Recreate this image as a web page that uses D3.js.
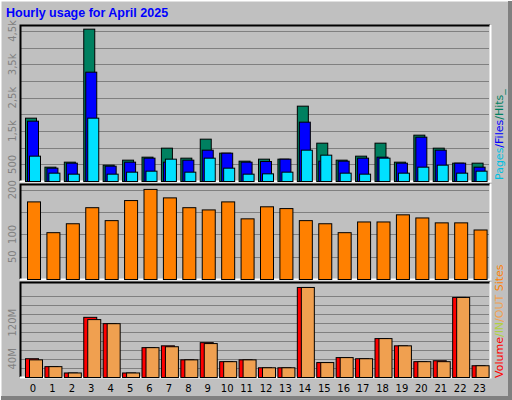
<!DOCTYPE html><html><head><meta charset="utf-8">
<script src="https://cdn.jsdelivr.net/npm/d3@7"></script>
<style>body{margin:0;background:#fff}</style></head><body><svg id="c" width="512" height="400"></svg>
<script>
const hours=d3.range(24).map(String);
const hits=[1900,430,580,4570,490,640,730,1000,700,1270,850,610,670,670,2260,1150,640,760,1150,580,1390,1000,550,550];
const files=[1810,400,550,3280,460,580,700,580,640,940,850,580,600,670,1780,610,610,700,730,550,1330,940,550,430];
const pages=[760,250,220,1900,220,280,310,670,280,700,400,220,230,280,940,790,250,220,700,250,430,490,250,310];
const sites=[174,105,125,161,132,177,202,183,161,156,174,136,163,159,132,125,105,129,129,145,138,127,127,111];
const volIn=[41.5,24,10,133,119,10,66,70,39,77,35,39,21.5,21.5,199,33,44,41.5,86,70,35,37,177,26];
const volOut=[39,24,10,128,119,10,66,68,39,75,35,39,21.5,21.5,199,33,44,41.5,86,70,35,35,177,26];
const topTicks=[500,1000,1500,2000,2500,3000,3500,4000,4500];
const topLabels={500:"500",1500:"1,5k",2500:"2,5k",3500:"3,5k",4500:"4,5k"};
const midTicks=[50,100,150,200], midLabels={50:"50",100:"100",200:"200"};
const botTicks=[20,40,60,80,100,120,140,160,180], botLabels={40:"40M",120:"120M"};

const svg=d3.select("#c");
svg.append("rect").attr("width",512).attr("height",400).attr("fill","#c0c0c0");
svg.append("path").attr("d","M0,400V0H512").attr("stroke","#fff").attr("stroke-width",3).attr("fill","none");
svg.append("path").attr("d","M1,398H510V1").attr("stroke","#808080").attr("stroke-width",4).attr("fill","none");
svg.append("text").attr("x",6).attr("y",17).text("Hourly usage for April 2025")
 .attr("fill","#0000ff").attr("font-family","Liberation Sans, Arial").attr("font-weight","bold").attr("font-size",12.5);

const x=d3.scaleBand().domain(hours).range([22,488]);
const L=20,R=490;
function panel(y0,y1,max,ticks,labels){
  const y=d3.scaleLinear().domain([0,max]).range([y1,y0]);
  const g=svg.append("g");
  g.selectAll("line.g").data(ticks).join("line").attr("x1",L+1).attr("x2",R-1)
   .attr("y1",d=>Math.round(y(d))+.5).attr("y2",d=>Math.round(y(d))+.5).attr("stroke","#808080");
  svg.append("path").attr("d",`M${L+.5},${y1}V${y0+.5}H${R}`).attr("stroke","#000").attr("stroke-width",2).attr("fill","none");
  svg.append("path").attr("d",`M${L},${y1+.5}H${R+.5}V${y0}`).attr("stroke","#fff").attr("stroke-width",2).attr("fill","none");
  g.selectAll("text").data(ticks.filter(t=>labels[t])).join("text")
   .attr("transform",d=>`translate(16,${y(d)}) rotate(-90)`).attr("text-anchor","middle")
   .attr("fill","#808080").attr("font-family","DejaVu Sans").attr("font-size",10).text(d=>labels[d]);
  return y;
}
function bars(y,data,off,w,color){
  svg.append("g").selectAll("rect").data(data).join("rect")
   .attr("x",(d,i)=>x(hours[i])+off+.5).attr("width",w).attr("y",d=>y(d)+.5).attr("height",d=>y(0)-y(d))
   .attr("fill",color).attr("stroke","#000").attr("stroke-width",1);
}
const yT=panel(25,181,4680,topTicks,topLabels);
bars(yT,hits,3,11,"#008060");bars(yT,files,5,11,"#0000ff");bars(yT,pages,7,11,"#00e0ff");
const yM=panel(184,279,213,midTicks,midLabels);
bars(yM,sites,5,13,"#ff8000");
const yB=panel(282,377,210,botTicks,botLabels);
bars(yB,volIn,3,13,"#ff0000");bars(yB,volOut,7,13,"#f0a050");
svg.append("g").selectAll("text").data(hours).join("text").attr("x",d=>x(d)+11)
 .attr("y",392).attr("text-anchor","middle").attr("font-family","DejaVu Sans").attr("font-size",10).text(d=>d);

function vlegend(yBottom,parts){
  const t=svg.append("text").attr("transform",`translate(503,${yBottom}) rotate(-90)`)
   .attr("font-family","DejaVu Sans").attr("font-size",11);
  parts.forEach(p=>t.append("tspan").attr("fill",p[1]).text(p[0]));
}
vlegend(180,[["Pages","#00c0e0"],["/","#0000ff"],["Files","#0000ff"],["/","#008060"],["Hits_","#008060"]]);
vlegend(378,[["Volume","#ff0000"],["/IN","#b0d040"],["/OUT","#f0a050"],["  Sites","#ff8000"]]);
</script></body></html>
